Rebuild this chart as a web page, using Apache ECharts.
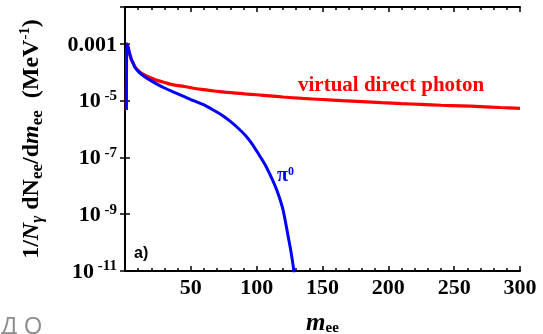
<!DOCTYPE html>
<html>
<head>
<meta charset="utf-8">
<script src="https://cdn.jsdelivr.net/npm/echarts@6/dist/echarts.min.js"></script>
<style>
  html, body { margin: 0; padding: 0; background: #fff; }
  #chart { width: 543px; height: 334px; }
</style>
</head>
<body>
<div id="chart"></div>
<script>
// Dilepton mass spectrum per photon: virtual direct photon vs. pi0 Dalitz decay
const photonMass  = [1.0, 1.3, 1.6, 2.3, 3.0, 3.8, 4.9, 6.1, 7.6, 9.9, 12.2, 15.2, 20, 25, 30, 37, 45, 52, 60, 68,
                     76, 84, 91, 100, 110, 120, 135, 150, 165, 180, 195, 210, 225, 240, 255, 270, 285, 300];
const photonYield = [4.7e-6, 1.0e-3, 1.0e-3, 7.9e-4, 5.6e-4, 4.1e-4, 2.8e-4, 2.14e-4, 1.55e-4, 1.17e-4, 9.5e-5,
                     7.9e-5, 6.3e-5, 5.1e-5, 4.4e-5, 3.6e-5, 3.16e-5, 2.75e-5, 2.45e-5, 2.19e-5, 2.0e-5, 1.86e-5,
                     1.74e-5, 1.62e-5, 1.48e-5, 1.35e-5, 1.2e-5, 1.1e-5, 1.0e-5, 9.3e-6, 8.5e-6, 7.9e-6, 7.4e-6,
                     6.9e-6, 6.6e-6, 6.2e-6, 5.75e-6, 5.4e-6];

const pionMass  = [1.0, 1.3, 1.6, 2.3, 3.0, 3.8, 4.9, 6.1, 7.6, 9.9, 12.2, 15.2, 20, 25, 30, 37, 45, 52, 60, 67,
                   74, 80, 86, 92, 97, 102, 106, 110, 114, 117, 120, 122, 124, 126, 127.5, 128.4];
const pionYield = [4.7e-6, 1.0e-3, 1.0e-3, 7.9e-4, 5.6e-4, 4.1e-4, 2.8e-4, 2.14e-4, 1.48e-4, 1.1e-4, 8.7e-5,
                   6.9e-5, 5.0e-5, 3.7e-5, 2.8e-5, 2.0e-5, 1.38e-5, 1.0e-5, 7.1e-6, 4.7e-6, 3.0e-6, 1.86e-6,
                   1.07e-6, 5.6e-7, 2.8e-7, 1.2e-7, 6.0e-8, 2.6e-8, 1.0e-8, 4.2e-9, 1.45e-9, 5.0e-10, 1.58e-10,
                   5.0e-11, 1.78e-11, 8.9e-12];

// Axis ranges and tick labels
const xRange = [0, 300];
const xStep = 50;
const yRange = [1e-11, 0.02];
const yDecadeStep = 2;
const yPlainLabels = { '-3': '0.001' };

const SERIF = '"Liberation Serif", "DejaVu Serif", serif';

const chart = echarts.init(document.getElementById('chart'), null, { renderer: 'canvas' });

const frameLine = { show: true, lineStyle: { color: '#000', width: 2 } };

function xAxisCfg(pos, withLabels) {
  return {
    type: 'value',
    position: pos,
    min: xRange[0], max: xRange[1], interval: xStep,
    axisLine: frameLine,
    axisTick: { show: true, inside: true, length: 5, lineStyle: { color: '#000', width: 1.5 } },
    minorTick: { show: true, splitNumber: 5, length: 3, lineStyle: { color: '#000', width: 1.5 } },
    splitLine: { show: false },
    axisLabel: withLabels ? {
      show: true, showMinLabel: false, margin: 6,
      color: '#000', fontFamily: SERIF, fontWeight: 'bold', fontSize: 22
    } : { show: false },
    name: withLabels ? '{m|m}{s|ee}' : '',
    nameLocation: 'middle', nameGap: 41,
    nameTextStyle: {
      rich: {
        m: { fontFamily: SERIF, fontStyle: 'italic', fontWeight: 'bold', fontSize: 25, color: '#000', lineHeight: 24, verticalAlign: 'middle' },
        s: { fontFamily: SERIF, fontWeight: 'bold', fontSize: 15, color: '#000', lineHeight: 24, verticalAlign: 'bottom' }
      }
    }
  };
}

function yAxisCfg(pos, withLabels) {
  return {
    type: 'log', logBase: 10,
    position: pos,
    min: yRange[0], max: yRange[1], interval: yDecadeStep,
    axisLine: frameLine,
    axisTick: { show: true, inside: true, length: 5, lineStyle: { color: '#000', width: 1.5 } },
    splitLine: { show: false },
    axisLabel: withLabels ? {
      show: true, showMaxLabel: false, margin: 8,
      formatter: function (v) {
        const e = Math.round(Math.log10(v));
        if (yPlainLabels[e] !== undefined) return '{n|' + yPlainLabels[e] + '}';
        return '{n|10}{s| ' + e + '}';
      },
      rich: {
        n: { fontFamily: SERIF, fontWeight: 'bold', fontSize: 22, color: '#000', lineHeight: 24, verticalAlign: 'bottom' },
        s: { fontFamily: SERIF, fontWeight: 'bold', fontSize: 15, color: '#000', lineHeight: 24, verticalAlign: 'top' }
      }
    } : { show: false },
    name: withLabels ? '{r|1/}{i|N}{g|γ}{r| dN}{b|ee}{r|/d}{i|m}{b|ee}{r|  (MeV}{p|-1}{r|)}' : '',
    nameLocation: 'middle', nameRotate: 90, nameGap: 79,
    nameTextStyle: {
      rich: {
        r: { fontFamily: SERIF, fontWeight: 'bold', fontSize: 24, color: '#000', lineHeight: 28, verticalAlign: 'middle' },
        i: { fontFamily: SERIF, fontWeight: 'bold', fontStyle: 'italic', fontSize: 24, color: '#000', lineHeight: 28, verticalAlign: 'middle' },
        g: { fontFamily: SERIF, fontWeight: 'bold', fontStyle: 'italic', fontSize: 17, color: '#000', lineHeight: 28, verticalAlign: 'bottom' },
        b: { fontFamily: SERIF, fontWeight: 'bold', fontSize: 17, color: '#000', lineHeight: 28, verticalAlign: 'bottom' },
        p: { fontFamily: SERIF, fontWeight: 'bold', fontSize: 15, color: '#000', lineHeight: 28, verticalAlign: 'top' }
      }
    }
  };
}

function pairs(xs, ys) { return xs.map((x, i) => [x, ys[i]]); }

chart.setOption({
  animation: false,
  backgroundColor: '#fff',
  grid: { left: 125, right: 23, top: 7, bottom: 63, outerBoundsMode: 'none', containLabel: false },
  xAxis: [xAxisCfg('bottom', true), xAxisCfg('top', false)],
  yAxis: [yAxisCfg('left', true), yAxisCfg('right', false)],
  series: [
    {
      name: 'virtual direct photon', type: 'line', xAxisIndex: 0, yAxisIndex: 0,
      data: pairs(photonMass, photonYield),
      showSymbol: false, smooth: 0.25, clip: true,
      lineStyle: { color: '#ff0000', width: 3.2 }
    },
    {
      name: 'π0', type: 'line', xAxisIndex: 0, yAxisIndex: 0,
      data: pairs(pionMass, pionYield),
      showSymbol: false, smooth: 0.25, clip: true,
      lineStyle: { color: '#0000ff', width: 3 }
    }
  ],
  graphic: [
    {
      type: 'text', left: 298, top: 75,
      style: { text: 'virtual direct photon', fill: '#ff0000', font: 'bold 21px ' + SERIF }
    },
    {
      type: 'text', left: 277, top: 166,
      style: {
        text: '{p|π}{z|0}', fill: '#0000ff',
        rich: {
          p: { font: 'bold 20px ' + SERIF, fill: '#0000ff', lineHeight: 20, verticalAlign: 'bottom' },
          z: { font: 'bold 12px ' + SERIF, fill: '#0000ff', lineHeight: 20, verticalAlign: 'top' }
        }
      }
    },
    {
      type: 'text', left: 134, top: 246,
      style: { text: 'a)', fill: '#000', font: 'bold 16px "Liberation Sans", Arial, sans-serif' }
    },
    {
      type: 'text', left: 1, top: 315,
      style: { text: 'Д О', fill: '#8c8c8c', font: '24px "Open Sans", "Noto Sans", sans-serif' }
    }
  ]
});
</script>
</body>
</html>
